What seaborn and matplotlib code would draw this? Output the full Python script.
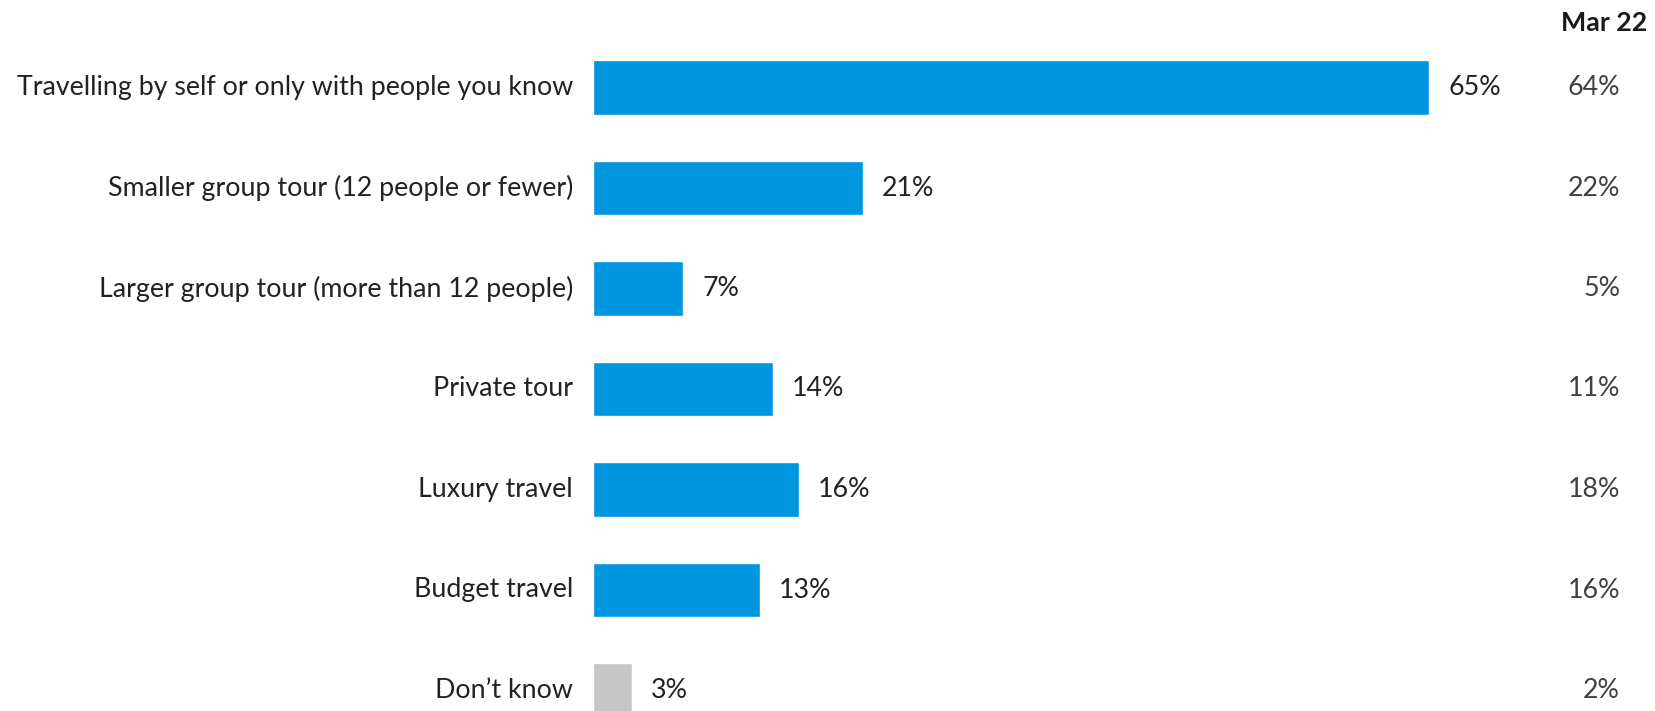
import matplotlib
matplotlib.use("Agg")
import matplotlib.pyplot as plt
import seaborn as sns
import pandas as pd

categories = [
    "Travelling by self or only with people you know",
    "Smaller group tour (12 people or fewer)",
    "Larger group tour (more than 12 people)",
    "Private tour",
    "Luxury travel",
    "Budget travel",
    "Don\u2019t know",
]
current = [65, 21, 7, 14, 16, 13, 3]
mar22 = [64, 22, 5, 11, 18, 16, 2]
kinds = ["main"] * 6 + ["dk"]

df = pd.DataFrame({"category": categories, "value": current, "kind": kinds})

sns.set_theme(style="white")
plt.rcParams["font.family"] = ["Lato", "DejaVu Sans"]

W, H = 1655, 711
fig = plt.figure(figsize=(W / 100, H / 100), dpi=100)
x0, x65 = 593, 1429
ax = fig.add_axes([x0 / W, 0, (x65 - x0) / W, 1])

sns.barplot(data=df, x="value", y="category", hue="kind", orient="h",
            palette={"main": "#0095DF", "dk": "#C6C6C6"},
            width=0.547, dodge=False, legend=False, saturation=1, ax=ax)

ax.set_xlim(0, 65)
pitch = 100.5
ax.set_ylim((H - 87.5) / pitch, -87.5 / pitch)
ax.axis("off")

# fit the longest category label into the space left of the bars
renderer = fig.canvas.get_renderer()
probe = fig.text(0, 0, categories[0], fontsize=20)
w20 = probe.get_window_extent(renderer).width
probe.remove()
fs = 20 * 556 / w20

label_col = "#222222"
for i, (cat, v, m) in enumerate(zip(categories, current, mar22)):
    ax.annotate(cat, xy=(0, i), xytext=(-20, 0), textcoords="offset pixels",
                ha="right", va="center", fontsize=fs, color=label_col,
                annotation_clip=False)
    ax.annotate(f"{v}%", xy=(v, i), xytext=(19, 0), textcoords="offset pixels",
                ha="left", va="center", fontsize=fs, color=label_col,
                annotation_clip=False)
    fig.text(1620 / W, 1 - (87.5 + pitch * i) / H, f"{m}%", ha="right",
             va="center", fontsize=fs, color="#404040")

fig.text(1647 / W, 1 - 23 / H, "Mar 22", ha="right", va="center",
         fontsize=fs, fontweight="bold", color="#1a1a1a")

fig.savefig("out.png", dpi=100)
